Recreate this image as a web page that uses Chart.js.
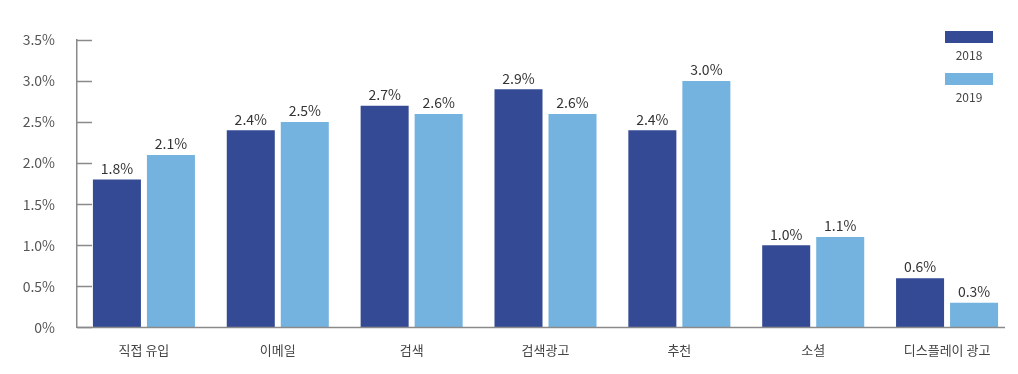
<!DOCTYPE html>
<html>
<head>
<meta charset="utf-8">
<script src="https://cdn.jsdelivr.net/npm/chart.js@4.4.1/dist/chart.umd.min.js"></script>
<style>
  html, body { margin: 0; padding: 0; background: #fff; }
  #wrap { width: 1018px; height: 374px; position: relative; }
</style>
</head>
<body>
<div id="wrap"><canvas id="grafico" width="1018" height="374"></canvas></div>
<script>
const categorias = ['직접 유입', '이메일', '검색', '검색광고', '추천', '소셜', '디스플레이 광고'];
const anos = ['2018', '2019'];
const valores2018 = [1.8, 2.4, 2.7, 2.9, 2.4, 1.0, 0.6];
const valores2019 = [2.1, 2.5, 2.6, 2.6, 3.0, 1.1, 0.3];
const cores = ['#344a94', '#74b3df'];

const fonte = "'Noto Sans CJK KR', 'Noto Sans', sans-serif";

// rótulos de valor acima das barras
const rotulosPlugin = {
  id: 'rotulos',
  afterDatasetsDraw(chart) {
    const ctx = chart.ctx;
    ctx.save();
    ctx.font = '14px ' + fonte;
    ctx.fillStyle = '#333';
    ctx.textAlign = 'center';
    ctx.textBaseline = 'bottom';
    chart.data.datasets.forEach((ds, i) => {
      chart.getDatasetMeta(i).data.forEach((bar, j) => {
        ctx.fillText(ds.data[j].toFixed(1) + '%', bar.x, bar.y - 4);
      });
    });
    ctx.restore();
  }
};

// marcas curtas do eixo y (para dentro) e linha de base um pouco mais curta
const marcasPlugin = {
  id: 'marcas',
  afterDraw(chart) {
    const ctx = chart.ctx;
    const y = chart.scales.y;
    const area = chart.chartArea;
    ctx.save();
    ctx.strokeStyle = '#8a8a8a';
    ctx.lineWidth = 1.5;
    y.ticks.forEach(t => {
      const py = Math.round(y.getPixelForValue(t.value)) + 0.5;
      ctx.beginPath();
      ctx.moveTo(area.left, py);
      ctx.lineTo(area.left + 15, py);
      ctx.stroke();
    });
    const base = Math.round(y.getPixelForValue(0)) + 0.5;
    ctx.beginPath();
    ctx.moveTo(area.left, base);
    ctx.lineTo(area.right - 9, base);
    ctx.stroke();
    ctx.restore();
  }
};

// legenda: amostra de cor com o ano embaixo
const legendaPlugin = {
  id: 'legenda',
  afterDraw(chart) {
    const ctx = chart.ctx;
    ctx.save();
    ctx.font = '12px ' + fonte;
    ctx.textAlign = 'center';
    ctx.textBaseline = 'middle';
    chart.data.datasets.forEach((ds, i) => {
      const topo = 31 + i * 42;
      ctx.fillStyle = ds.backgroundColor;
      ctx.fillRect(945, topo, 48, 12);
      ctx.fillStyle = '#444';
      ctx.fillText(ds.label, 969, topo + 24);
    });
    ctx.restore();
  }
};

new Chart(document.getElementById('grafico'), {
  type: 'bar',
  data: {
    labels: categorias,
    datasets: [
      { label: anos[0], data: valores2018, backgroundColor: cores[0] },
      { label: anos[1], data: valores2019, backgroundColor: cores[1] }
    ]
  },
  options: {
    responsive: false,
    animation: false,
    layout: { padding: { top: 40, right: 4, bottom: 1, left: 0 } },
    datasets: { bar: { categoryPercentage: 0.807, barPercentage: 0.889 } },
    plugins: { legend: { display: false }, tooltip: { enabled: false } },
    scales: {
      x: {
        grid: { display: false, drawTicks: false },
        border: { display: false },
        ticks: { color: '#444', font: { family: fonte, size: 13 }, padding: 15, maxRotation: 0 }
      },
      y: {
        min: 0,
        max: 3.5,
        afterFit(scale) { scale.width = 77; },
        grid: { display: false, drawTicks: false },
        border: { color: '#8a8a8a', width: 1.5 },
        ticks: {
          stepSize: 0.5,
          color: '#555',
          padding: 22,
          font: { family: fonte, size: 14 },
          callback: v => v === 0 ? '0%' : v.toFixed(1) + '%'
        }
      }
    }
  },
  plugins: [rotulosPlugin, marcasPlugin, legendaPlugin]
});
</script>
</body>
</html>
